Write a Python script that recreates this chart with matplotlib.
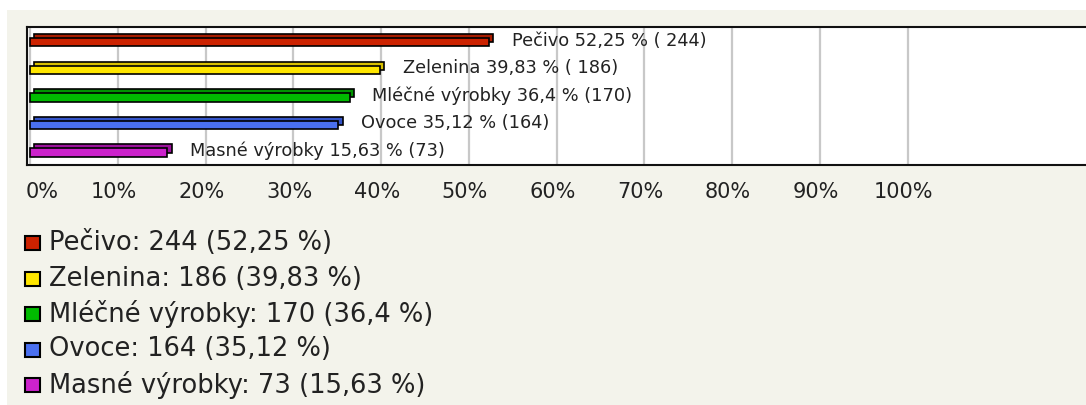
import numpy as np
import matplotlib
matplotlib.use('Agg')
import matplotlib.pyplot as plt
import matplotlib.transforms as mtransforms
from matplotlib.patches import Rectangle

plt.rcParams['font.family'] = ['DejaVu Sans']

categories = ['Pečivo', 'Zelenina', 'Mléčné výrobky', 'Ovoce', 'Masné výrobky']
counts = [244, 186, 170, 164, 73]
percents = [52.25, 39.83, 36.4, 35.12, 15.63]
pct_text = ['52,25', '39,83', '36,4', '35,12', '15,63']
bar_labels = ['Pečivo 52,25 % ( 244)', 'Zelenina 39,83 % ( 186)', 'Mléčné výrobky 36,4 % (170)',
              'Ovoce 35,12 % (164)', 'Masné výrobky 15,63 % (73)']
tick_values = [0, 10, 20, 30, 40, 50, 60, 70, 80, 90, 100]
tick_labels = ['%d%%' % t for t in tick_values]

front_colors = ['#cc2200', '#ffe600', '#00bb00', '#4a70f0', '#cc22cc']
back_colors = ['#a81c00', '#d8c000', '#009400', '#3454c8', '#9c129c']

W, H = 1086, 405
fig = plt.figure(figsize=(W / 100, H / 100), dpi=100, facecolor='white')

# beige panel behind everything
fig.patches.append(Rectangle((7 / W, 0), 1, 1 - 10 / H, transform=fig.transFigure,
                             facecolor='#f3f3eb', edgecolor='none', zorder=-10))

def px(x, y):
    return x / W, 1 - y / H

left, top, bottom, right = 27, 27, 165, 1092
ax = fig.add_axes([left / W, 1 - bottom / H, (right - left) / W, (bottom - top) / H])
ax.set_facecolor('white')

y = np.arange(len(categories)) + 0.55
dx, dy, h = 0.5, 0.15, 0.30
ax.barh(y - dy, percents, left=dx, height=h, color=back_colors, edgecolor='black', linewidth=1.2, zorder=3)
ax.barh(y, percents, height=h, color=front_colors, edgecolor='black', linewidth=1.2, zorder=4)

for yi, v, lab in zip(y, percents, bar_labels):
    ax.annotate(lab, xy=(v, yi - 0.06), xytext=(16.5, 0), textcoords='offset points',
                ha='left', va='center', fontsize=12.8, color='#222222', zorder=5)

ax.set_xlim(-0.35, 121)
ax.set_ylim(len(categories), 0)
ax.set_yticks([])
ax.set_xticks(tick_values)
ax.set_xticklabels(tick_labels, fontsize=15, color='#222222')
ax.tick_params(axis='x', length=0, pad=12)
shift = mtransforms.ScaledTranslation(-4 / 100, 0, fig.dpi_scale_trans)
for lab in ax.get_xticklabels():
    lab.set_transform(lab.get_transform() + shift)
ax.get_xticklabels()[0].set_horizontalalignment('left')
for t in tick_values:
    ax.axvline(t, color='#c8c8c8', linewidth=1.6, zorder=1)
for s in ax.spines.values():
    s.set_linewidth(1.5)
    s.set_color('#111111')

# legend below
for i, (cat, c, p, col) in enumerate(zip(categories, counts, pct_text, front_colors)):
    yc = 243 + i * 35.5
    x0, y0 = px(25, yc + 7)
    fig.patches.append(Rectangle((x0, y0), 15 / W, 14 / H, transform=fig.transFigure,
                                 facecolor=col, edgecolor='black', linewidth=1.5))
    tx, ty = px(49, yc)
    fig.text(tx, ty, '%s: %d (%s %%)' % (cat, c, p), fontsize=18.5, color='#222222',
             ha='left', va='center')

fig.savefig('out.png', dpi=100, facecolor=fig.get_facecolor())
